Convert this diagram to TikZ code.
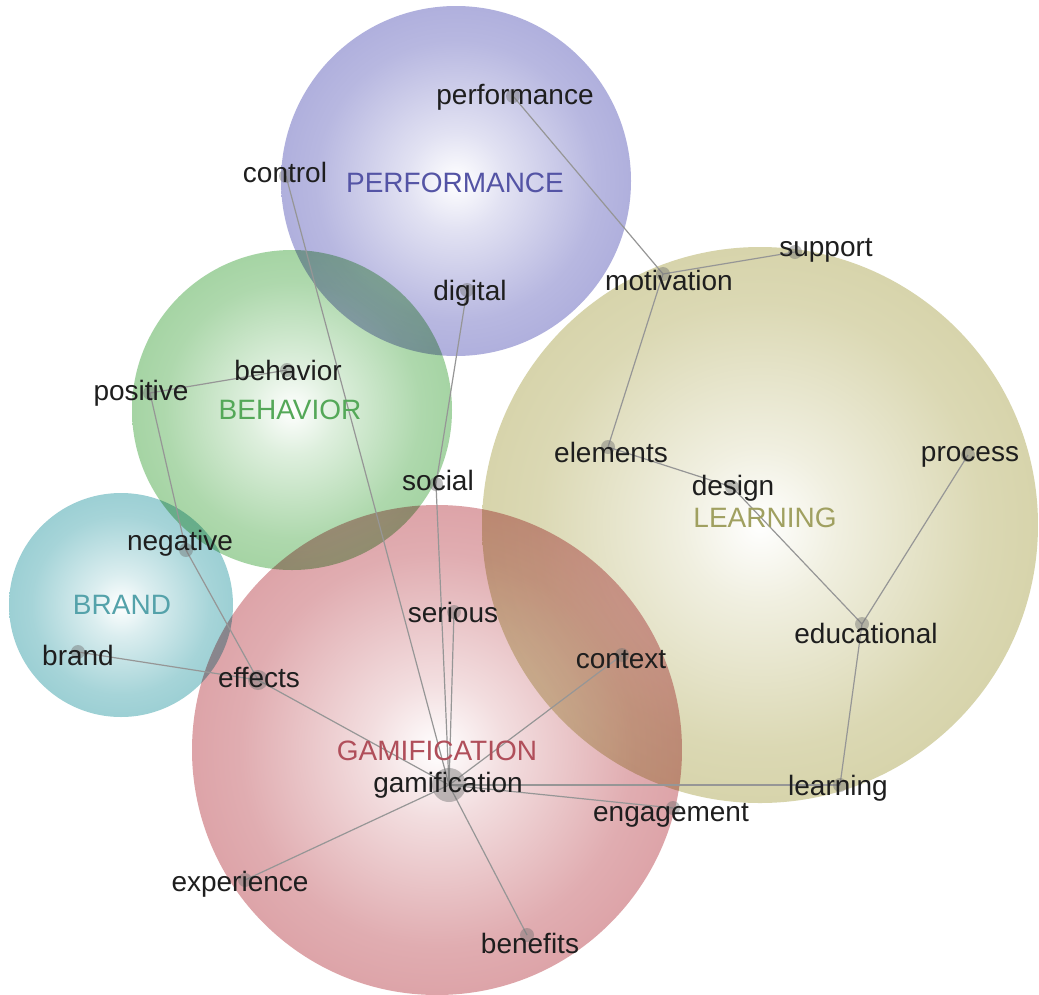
\documentclass[tikz,border=0pt]{standalone}
\usepackage{fontspec}
\setmainfont{Liberation Sans}
\begin{document}
% cluster colours
\definecolor{perfc}{RGB}{150,150,210}
\definecolor{behc}{RGB}{136,198,134}
\definecolor{brandc}{RGB}{124,192,198}
\definecolor{gamc}{RGB}{210,134,140}
\definecolor{learnc}{RGB}{202,198,144}
\definecolor{perft}{RGB}{84,84,165}
\definecolor{beht}{RGB}{84,168,88}
\definecolor{brandt}{RGB}{84,162,170}
\definecolor{gamt}{RGB}{176,78,90}
\definecolor{learnt}{RGB}{160,160,96}
\definecolor{termc}{RGB}{30,30,30}
\definecolor{linkc}{RGB}{150,150,150}
% white centre fading out to the cluster colour at the rim
\def\bubbleshade#1#2{%
  \pgfdeclareradialshading{#1}{\pgfpoint{0bp}{0bp}}{color(0bp)=(white); color(7bp)=(#2!28!white); color(20bp)=(#2!68!white); color(36bp)=(#2!92!white); color(50bp)=(#2); color(100bp)=(#2)}}
\bubbleshade{perfshade}{perfc}
\bubbleshade{behshade}{behc}
\bubbleshade{brandshade}{brandc}
\bubbleshade{gamshade}{gamc}
\bubbleshade{learnshade}{learnc}
\begin{tikzpicture}[x=1pt,y=-1pt,
  term/.style={font=\fontsize{28}{32}\selectfont, text=termc, inner sep=0pt},
  cluster/.style={font=\fontsize{28}{32}\selectfont, inner sep=0pt},
  link/.style={draw=linkc, line width=1.2pt},
  dot/.style={fill=black!55, fill opacity=0.45}]
\useasboundingbox (0,0) rectangle (1039,994);
\clip (0,0) rectangle (1039,994);
\fill[white] (0,0) rectangle (1039,994);

% cluster bubbles
\begin{scope}[blend group=multiply]
  \shade[shading=learnshade] (760,525) circle[radius=278pt];
  \shade[shading=gamshade] (437,750) circle[radius=245pt];
  \shade[shading=perfshade] (456,181) circle[radius=175pt];
  \shade[shading=behshade] (292,410) circle[radius=160pt];
  \shade[shading=brandshade] (121,605) circle[radius=112pt];
\end{scope}

% term positions
\coordinate (performance) at (513,96);
\coordinate (control) at (286,176);
\coordinate (digital) at (467,290);
\coordinate (motivation) at (663,274);
\coordinate (support) at (795,252);
\coordinate (behavior) at (287,370);
\coordinate (positive) at (150,393);
\coordinate (social) at (436,484);
\coordinate (elements) at (608,447);
\coordinate (design) at (732,487);
\coordinate (process) at (968,455);
\coordinate (negative) at (186,550);
\coordinate (brand) at (78,652);
\coordinate (serious) at (454,612);
\coordinate (effects) at (258,680);
\coordinate (context) at (622,655);
\coordinate (educational) at (862,624);
\coordinate (gamification) at (449,785);
\coordinate (learning) at (840,785);
\coordinate (engagement) at (673,808);
\coordinate (experience) at (245,880);
\coordinate (benefits) at (527,935);

% co-occurrence links
\draw[link] (performance) -- (motivation);
\draw[link] (motivation) -- (support);
\draw[link] (motivation) -- (elements);
\draw[link] (elements) -- (design);
\draw[link] (design) -- (educational);
\draw[link] (process) -- (educational);
\draw[link] (educational) -- (learning);
\draw[link] (gamification) -- (learning);
\draw[link] (gamification) -- (engagement);
\draw[link] (gamification) -- (context);
\draw[link] (gamification) -- (benefits);
\draw[link] (gamification) -- (experience);
\draw[link] (gamification) -- (effects);
\draw[link] (gamification) -- (serious);
\draw[link] (gamification) -- (social);
\draw[link] (social) -- (digital);
\draw[link] (gamification) -- (control);
\draw[link] (brand) -- (effects);
\draw[link] (effects) -- (negative);
\draw[link] (negative) -- (positive);
\draw[link] (positive) -- (behavior);

% term markers
\foreach \t in {performance,control,digital,motivation,support,behavior,positive,social,elements,design,process,negative,brand,serious,context,educational,learning,engagement,experience,benefits}
  \fill[dot] (\t) circle[radius=7pt];
\fill[dot] (effects) circle[radius=10pt];
\fill[dot] (gamification) circle[radius=17pt];

% cluster titles
\node[cluster, text=perft] (perfT) at (455,183) {PERFORMANCE};
\node[cluster, text=beht] (behT) at (290,410) {BEHAVIOR};
\node[cluster, text=brandt] (brandT) at (122,605) {BRAND};
\node[cluster, text=gamt] (gamT) at (437,751) {GAMIFICATION};
\node[cluster, text=learnt] (learnT) at (765,518) {LEARNING};

% term labels
\node[term] (performance-t) at (515,97) {performance};
\node[term] (control-t) at (285,172) {control};
\node[term] (digital-t) at (470,293) {digital};
\node[term] (motivation-t) at (669,280) {motivation};
\node[term] (support-t) at (826,250) {support};
\node[term] (behavior-t) at (288,370) {behavior};
\node[term] (positive-t) at (141,393) {positive};
\node[term] (social-t) at (438,480) {social};
\node[term] (elements-t) at (611,452) {elements};
\node[term] (design-t) at (733,488) {design};
\node[term] (process-t) at (970,457) {process};
\node[term] (negative-t) at (180,543) {negative};
\node[term] (brand-t) at (78,655) {brand};
\node[term] (serious-t) at (453,612) {serious};
\node[term] (effects-t) at (259,677) {effects};
\node[term] (context-t) at (621,660) {context};
\node[term] (educational-t) at (866,633) {educational};
\node[term] (gamification-t) at (448,785) {gamification};
\node[term] (learning-t) at (838,788) {learning};
\node[term] (engagement-t) at (671,815) {engagement};
\node[term] (experience-t) at (240,884) {experience};
\node[term] (benefits-t) at (530,943) {benefits};
\end{tikzpicture}
\end{document}
